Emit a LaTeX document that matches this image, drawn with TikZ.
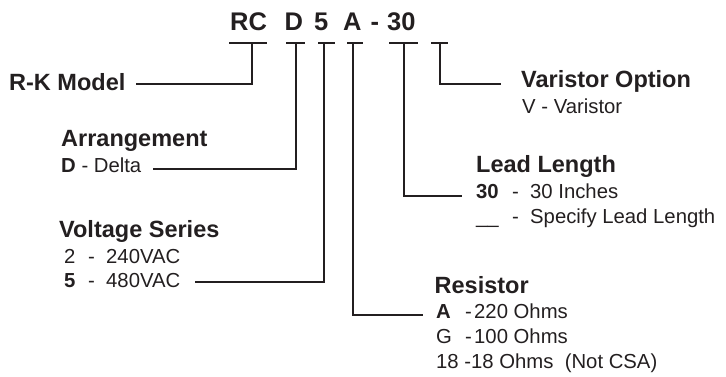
\documentclass[tikz,border=0pt]{standalone}
\usepackage{fontspec}
\setmainfont{Liberation Sans}
\definecolor{ink}{HTML}{231F20}
\tikzset{
  code/.style={anchor=base west,inner sep=0pt,font=\fontsize{25.5}{28}\selectfont\bfseries},
  head/.style={anchor=base west,inner sep=0pt,font=\fontsize{23.5}{26}\selectfont\bfseries},
  item/.style={anchor=base west,inner sep=0pt,font=\fontsize{20.3}{23}\selectfont},
  lead/.style={line width=1.2pt}
}
\begin{document}
\begin{tikzpicture}[x=1pt,y=-1pt,color=ink]

	\useasboundingbox (0,0) rectangle (726,377);
	% model code
	\node[code] (cRC) at (230,30.7) {RC};
	\node[code] (cD) at (284.5,30.7) {D};
	\node[code] (cV) at (314,30.7) {5};
	\node[code] (cA) at (343,30.7) {A};
	\node[code] (cdash) at (370.5,30.7) {-};
	\node[code] (cL) at (387,30.7) {30};
	\foreach \l/\r/\s/\n in {229/267/252/RC,286/305/296/D,318/335/324/V,347/363/353/A,389/418/404/L,431/448/440/O}{
		\draw[lead] (\l,43)--(\r,43);
		\coordinate (b\n) at (\s,43);
	}
	% left side
	\node[head] (model) at (9,91) {R-K Model};
	\node[head] (arrange) at (61,147) {Arrangement};
	\node[item] (delta) at (61,173) {\textbf{D} - Delta};
	\node[head] (volt) at (59,237) {Voltage Series};
	\node[item] (v2) at (64,263) {\makebox[24pt][l]{2}\makebox[18pt][l]{-}240VAC};
	\node[item] (v5) at (64,287) {\makebox[24pt][l]{\textbf{5}}\makebox[18pt][l]{-}480VAC};
	% right side
	\node[head] (varopt) at (521,88) {Varistor Option};
	\node[item] (vvar) at (522,114) {V - Varistor};
	\node[head] (lead) at (476,173) {Lead Length};
	\node[item] (l30) at (476,198) {\makebox[36pt][l]{\textbf{30}}\makebox[18pt][l]{-}30 Inches};
	\node[item] (lspec) at (476,223) {\makebox[36pt][l]{\_\_}\makebox[18pt][l]{-}Specify Lead Length};
	\node[head] (res) at (434.5,293) {Resistor};
	\node[item] (rA) at (436,318) {\makebox[29pt][l]{\textbf{A}}\makebox[9pt][l]{-}220 Ohms};
	\node[item] (rG) at (436,343) {\makebox[29pt][l]{G}\makebox[9pt][l]{-}100 Ohms};
	\node[item] (r18) at (436,368) {18 -18 Ohms\ \ (Not CSA)};
	% leads
	\draw[lead] (bRC) |- ([xshift=10pt,yshift=7pt]model.base east);
	\draw[lead] (bD) |- ([xshift=12pt,yshift=4pt]delta.base east);
	\draw[lead] (bV) |- ([xshift=14pt,yshift=5pt]v5.base east);
	\draw[lead] (bA) |- ([xshift=-13pt,yshift=3pt]rA.base west);
	\draw[lead] (bL) |- ([xshift=-14pt,yshift=2pt]l30.base west);
	\draw[lead] (bO) |- ([xshift=-20pt,yshift=4pt]varopt.base west);

\end{tikzpicture}
\end{document}
